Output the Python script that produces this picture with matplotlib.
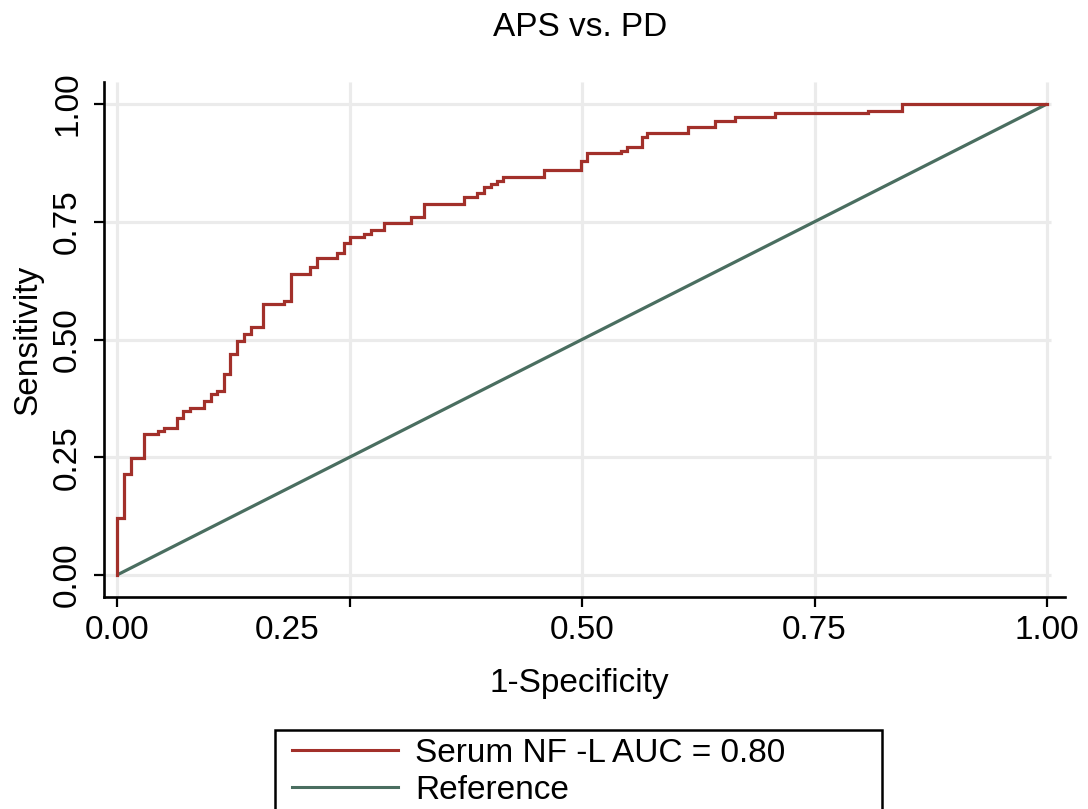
import matplotlib
matplotlib.use("Agg")
import matplotlib.pyplot as plt
from matplotlib.transforms import ScaledTranslation
from matplotlib.lines import Line2D
from matplotlib.patches import Rectangle

# ---- data ----
fpr = [0.0, 0.0, 0.0075, 0.0075, 0.0147, 0.0147, 0.029, 0.029, 0.0444, 0.0444,
       0.050, 0.050, 0.065, 0.065, 0.0713, 0.0713, 0.079, 0.079, 0.0935, 0.0935,
       0.1007, 0.1007, 0.107, 0.107, 0.115, 0.115, 0.1215, 0.1215, 0.129, 0.129,
       0.1366, 0.1366, 0.1437, 0.1437, 0.1573, 0.1573, 0.1796, 0.1796, 0.1867, 0.1867,
       0.208, 0.208, 0.2154, 0.2154, 0.237, 0.237, 0.244, 0.244, 0.251, 0.251,
       0.2656, 0.2656, 0.2727, 0.2727, 0.287, 0.287, 0.3158, 0.3158, 0.330, 0.330,
       0.373, 0.373, 0.3874, 0.3874, 0.3946, 0.3946, 0.4018, 0.4018, 0.409, 0.409,
       0.4154, 0.4154, 0.459, 0.459, 0.4986, 0.4986, 0.5057, 0.5057, 0.5416, 0.5416,
       0.5487, 0.5487, 0.564, 0.564, 0.570, 0.570, 0.6143, 0.6143, 0.643, 0.643,
       0.6645, 0.6645, 0.7075, 0.7075, 0.808, 0.808, 0.8437, 0.8437, 1.0]
tpr = [0.0, 0.122, 0.122, 0.214, 0.214, 0.249, 0.249, 0.299, 0.299, 0.306,
       0.306, 0.313, 0.313, 0.334, 0.334, 0.349, 0.349, 0.355, 0.355, 0.369,
       0.369, 0.384, 0.384, 0.390, 0.390, 0.427, 0.427, 0.469, 0.469, 0.497,
       0.497, 0.512, 0.512, 0.526, 0.526, 0.575, 0.575, 0.582, 0.582, 0.640,
       0.640, 0.653, 0.653, 0.674, 0.674, 0.683, 0.683, 0.704, 0.704, 0.718,
       0.718, 0.725, 0.725, 0.7325, 0.7325, 0.747, 0.747, 0.761, 0.761, 0.788,
       0.788, 0.802, 0.802, 0.810, 0.810, 0.823, 0.823, 0.830, 0.830, 0.837,
       0.837, 0.844, 0.844, 0.860, 0.860, 0.880, 0.880, 0.895, 0.895, 0.901,
       0.901, 0.908, 0.908, 0.929, 0.929, 0.9375, 0.9375, 0.9505, 0.9505, 0.9646,
       0.9646, 0.9717, 0.9717, 0.980, 0.980, 0.986, 0.986, 1.0, 1.0]
ref_x = [0.0, 1.0]
ref_y = [0.0, 1.0]
ticks = [0.0, 0.25, 0.50, 0.75, 1.0]
tick_labels = ["0.00", "0.25", "0.50", "0.75", "1.00"]
title = "APS vs. PD"
series_label = "Serum NF -L AUC = 0.80"
ref_label = "Reference"

RED = "#A2302A"
GREEN = "#4A6E60"
GRID = "#EBEBEB"
FS = 24

plt.rcParams["font.family"] = ["Liberation Sans", "DejaVu Sans"]

W, H = 1088, 809
fig = plt.figure(figsize=(W / 100, H / 100), dpi=100)

def px2fig(x, y):
    return x / W, 1 - y / H

l, b = px2fig(104, 597)
r, t = px2fig(1065, 82)
ax = fig.add_axes([l, b, r - l, t - b])

x0, x1 = (104 - 117) / 930, (1065 - 117) / 930
y0, y1 = (575 - 597) / 471, (575 - 82) / 471
ax.set_xlim(x0, x1)
ax.set_ylim(y0, y1)

# grid
ax.hlines(ticks, x0, 1.004, colors=GRID, lw=2.3, zorder=0)
ax.vlines(ticks, y0, y1, colors=GRID, lw=2.3, zorder=0)

ax.plot(ref_x, ref_y, color=GREEN, lw=2.3, zorder=2, solid_capstyle="butt")
ax.plot(fpr, tpr, color=RED, lw=2.3, zorder=3, solid_joinstyle="miter")

for s in ["top", "right"]:
    ax.spines[s].set_visible(False)
for s in ["left", "bottom"]:
    ax.spines[s].set_linewidth(1.9)

ax.set_xticks(ticks)
ax.set_xticklabels(tick_labels)
ax.set_yticks(ticks)
ax.set_yticklabels(tick_labels, rotation=90, va="center")
ax.tick_params(axis="both", direction="out", length=7, width=1.6, labelsize=FS)
ax.tick_params(axis="x", pad=6)
ax.tick_params(axis="y", pad=8)

# the 0.25 x label sits left of its tick in the reference
lab = ax.get_xticklabels()[1]
lab.set_transform(lab.get_transform() + ScaledTranslation(-0.62, 0, fig.dpi_scale_trans))

ax.set_xlabel("1-Specificity", fontsize=FS)
ax.xaxis.set_label_coords((579 - 104) / 961, -(668 - 597) / 515)
ax.xaxis.label.set_va("top")
ax.set_ylabel("Sensitivity", fontsize=FS, labelpad=6)
fig.text(*px2fig(580, 28), title, fontsize=FS, ha="center", va="center")

# legend box
lx0, ly0 = px2fig(275, 812)
lx1, ly1 = px2fig(882, 730)
fig.add_artist(Rectangle((lx0, ly0), lx1 - lx0, ly1 - ly0, transform=fig.transFigure,
                         facecolor="white", edgecolor="black", lw=1.8))
for (yy, col, txt) in [(750, RED, series_label), (787, GREEN, ref_label)]:
    a, yf = px2fig(292, yy)
    c, _ = px2fig(398, yy)
    fig.add_artist(Line2D([a, c], [yf, yf], transform=fig.transFigure, color=col, lw=2.2))
    tx, _ = px2fig(415, yy)
    fig.text(tx, yf, txt, fontsize=FS, ha="left", va="center_baseline")

fig.savefig("out.png", dpi=100)
